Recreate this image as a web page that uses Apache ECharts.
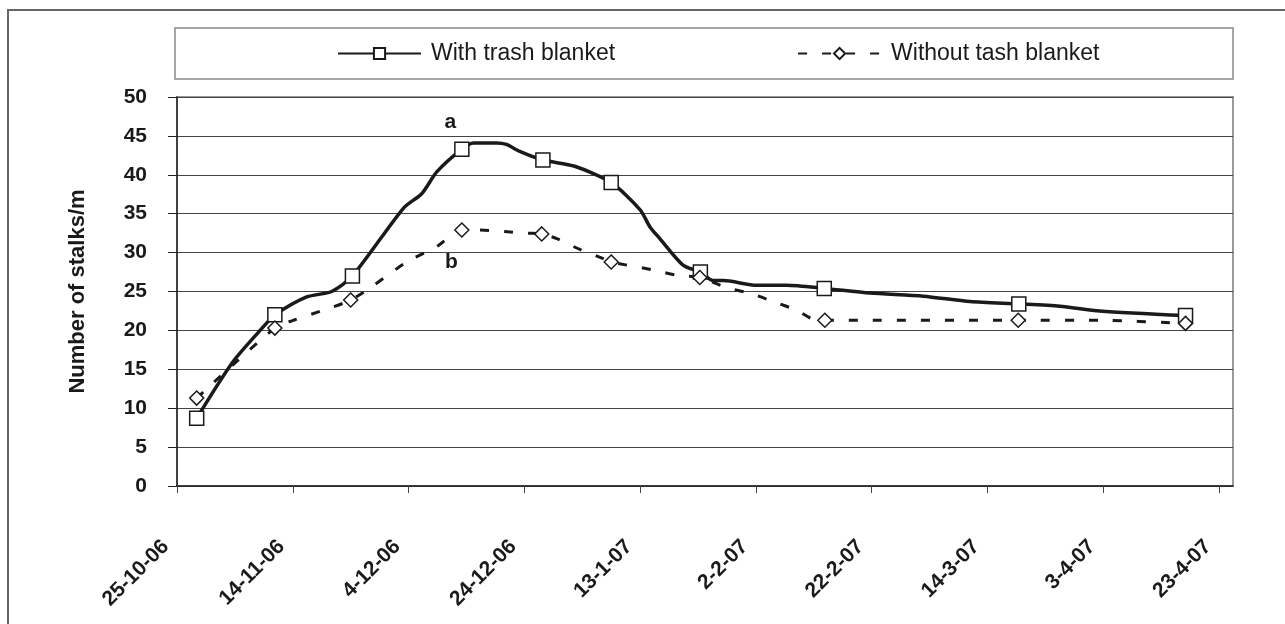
<!DOCTYPE html>
<html>
<head>
<meta charset="utf-8">
<script src="https://cdn.jsdelivr.net/npm/echarts@6/dist/echarts.min.js"></script>
<style>
html,body{margin:0;padding:0;background:#fff;}
#chart{width:1285px;height:624px;}
</style>
</head>
<body>
<div id="chart"></div>
<script>
// x values: days after 25-10-06
const xTickLabels = ['25-10-06','14-11-06','4-12-06','24-12-06','13-1-07','2-2-07','22-2-07','14-3-07','3-4-07','23-4-07'];
const yTicks = [0,5,10,15,20,25,30,35,40,45,50];

// With trash blanket: traced line vertices (1 = measured point with marker)
const withDays   = [3.4, 9.7, 15.2, 16.9, 22.4, 26.7, 30.3, 39.1, 42.3, 44.9, 49.2, 51.2, 55.2, 56.9, 59.2, 63.2, 68.7, 75.0, 80.0, 81.7, 83.4, 87.4, 90.4, 92.6, 94.4, 100.1, 105.3, 111.8, 119.7, 128.9, 137.0, 145.4, 152.5, 159.4, 174.2];
const withValues = [8.7, 16.0, 20.7, 22.0, 24.3, 25.0, 27.0, 35.7, 37.6, 40.4, 43.3, 44.1, 44.1, 43.9, 43.0, 41.9, 41.1, 39.0, 35.5, 33.3, 31.8, 28.4, 27.5, 26.4, 26.4, 25.8, 25.8, 25.4, 24.8, 24.4, 23.7, 23.4, 23.1, 22.5, 21.9];
const withMarked = [1, 0, 0, 1, 0, 0, 1, 0, 0, 0, 1, 0, 0, 0, 0, 1, 0, 1, 0, 0, 0, 0, 1, 0, 0, 0, 0, 1, 0, 0, 0, 1, 0, 0, 1];

// Without trash blanket
const withoutDays   = [3.4, 16.9, 20.1, 26.1, 30.0, 33.6, 39.7, 44.9, 49.2, 52.3, 56.6, 60.7, 63.0, 65.6, 69.6, 73.4, 75.0, 82.0, 86.3, 90.3, 94.9, 99.3, 103.0, 107.0, 110.5, 111.9, 145.3, 159.4, 174.2];
const withoutValues = [11.3, 20.3, 21.3, 22.8, 23.9, 25.6, 28.8, 30.8, 32.9, 32.9, 32.7, 32.5, 32.4, 31.8, 30.4, 29.3, 28.8, 27.8, 27.1, 26.8, 25.5, 24.7, 23.7, 22.6, 21.3, 21.3, 21.3, 21.3, 20.9];
const withoutMarked = [1, 1, 0, 0, 1, 0, 0, 0, 1, 0, 0, 0, 1, 0, 0, 0, 1, 0, 0, 1, 0, 0, 0, 0, 0, 1, 1, 0, 1];

const seriesNames = ['With trash blanket', 'Without tash blanket'];

function buildData(days, vals, marked) {
  return days.map((d, i) => marked[i] ? [d, vals[i]] : {value: [d, vals[i]], symbol: 'none'});
}

const FONT = "'Liberation Sans', Arial, sans-serif";
const chart = echarts.init(document.getElementById('chart'), null, {renderer: 'canvas'});

const option = {
  backgroundColor: '#fff',
  animation: false,
  graphic: [
    {type: 'rect', shape: {x: 8, y: 10, width: 1300, height: 700}, style: {fill: 'none', stroke: '#666', lineWidth: 2}, z: -10},
    {type: 'rect', shape: {x: 175, y: 28, width: 1058, height: 51}, style: {fill: 'none', stroke: '#8a8a8a', lineWidth: 1.5}, z: -10}
  ],
  legend: {
    left: 337,
    top: 42,
    padding: 0,
    itemWidth: 83,
    itemHeight: 14,
    itemGap: 182,
    textStyle: {fontFamily: FONT, fontSize: 23, color: '#1a1a1a', padding: [0, 0, 0, 5]},
    data: seriesNames
  },
  grid: {
    left: 177, right: 52, top: 97, bottom: 138,
    show: true, borderColor: '#9a9a9a', borderWidth: 2, backgroundColor: 'transparent'
  },
  xAxis: {
    type: 'value',
    min: 0,
    max: 182.4,
    interval: 20,
    axisLine: {show: true, onZero: false, lineStyle: {color: '#222', width: 1.5}},
    axisTick: {show: true, length: 7, customValues: xTickLabels.map((_, i) => i * 20), lineStyle: {color: '#444', width: 1}},
    splitLine: {show: false},
    axisLabel: {
      customValues: xTickLabels.map((_, i) => i * 20),
      rotate: 45,
      margin: 46,
      padding: [0, 16, 0, 0],
      fontFamily: FONT, fontSize: 21, fontWeight: 'bold', color: '#1a1a1a',
      formatter: v => xTickLabels[Math.round(v / 20)] || ''
    }
  },
  yAxis: {
    type: 'value',
    min: 0, max: 50, interval: 5,
    name: 'Number of stalks/m',
    nameLocation: 'middle',
    nameRotate: 90,
    nameGap: 88,
    nameTextStyle: {fontFamily: FONT, fontSize: 22, fontWeight: 'bold', color: '#1a1a1a'},
    axisLine: {show: true, lineStyle: {color: '#222', width: 1.5}},
    axisTick: {show: true, length: 9, lineStyle: {color: '#222', width: 1}},
    splitLine: {show: true, lineStyle: {color: '#444', width: 1}},
    axisLabel: {
      margin: 30,
      fontFamily: FONT, fontSize: 21, fontWeight: 'bold', color: '#1a1a1a',
      formatter: v => String(yTicks[Math.round(v / 5)])
    }
  },
  series: [
    {
      name: seriesNames[0],
      type: 'line',
      smooth: 0.25,
      symbol: 'rect',
      symbolSize: 14,
      z: 3,
      lineStyle: {color: '#1a1a1a', width: 3.5},
      itemStyle: {color: '#fff', borderColor: '#1a1a1a', borderWidth: 1.5},
      data: buildData(withDays, withValues, withMarked),
      markPoint: {
        symbol: 'circle', symbolSize: 1,
        itemStyle: {color: 'rgba(0,0,0,0)'},
        label: {show: true, position: 'inside', fontFamily: FONT, fontSize: 21, fontWeight: 'bold', color: '#1a1a1a'},
        data: [
          {coord: [47.2, 46.7], label: {formatter: 'a'}},
          {coord: [47.4, 28.8], label: {formatter: 'b'}}
        ]
      }
    },
    {
      name: seriesNames[1],
      type: 'line',
      smooth: 0.25,
      symbol: 'diamond',
      symbolSize: 14,
      z: 4,
      lineStyle: {color: '#1a1a1a', width: 3, type: [9, 15]},
      itemStyle: {color: '#fff', borderColor: '#1a1a1a', borderWidth: 1.5},
      data: buildData(withoutDays, withoutValues, withoutMarked)
    }
  ]
};
chart.setOption(option);
</script>
</body>
</html>
